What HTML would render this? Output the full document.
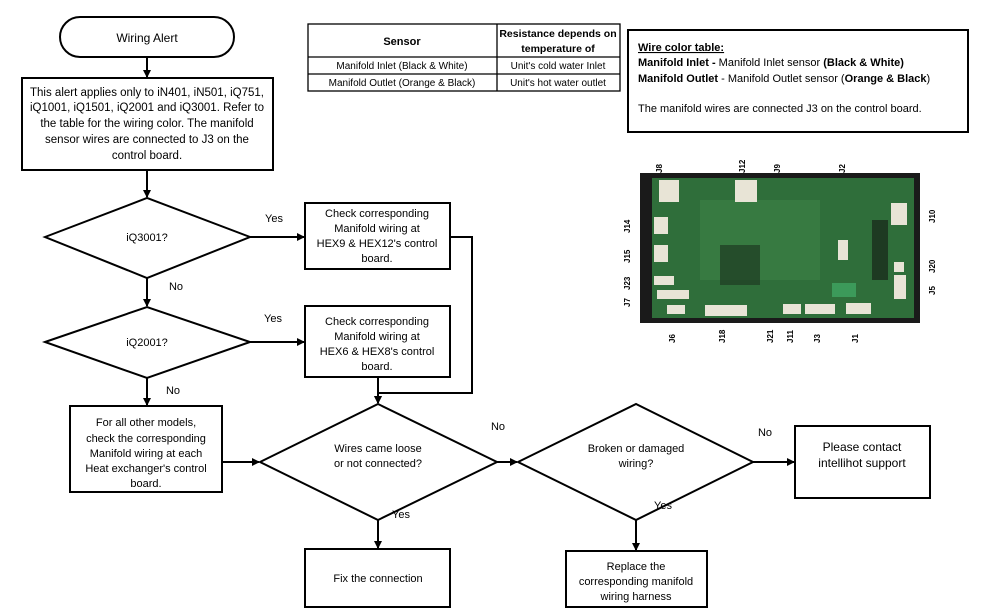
<!DOCTYPE html>
<html><head><meta charset="utf-8"><style>
html,body{margin:0;padding:0;background:#fff;}
svg{display:block;font-family:"Liberation Sans",sans-serif;}
</style></head><body>
<svg width="988" height="614" viewBox="0 0 988 614" xmlns="http://www.w3.org/2000/svg">
<defs><marker id="a" markerWidth="8" markerHeight="8" refX="7" refY="4" orient="auto" markerUnits="userSpaceOnUse"><path d="M0,0 L8,4 L0,8 z" fill="#000"/></marker></defs>
<g stroke="#000" stroke-width="2" fill="none">
<rect x="60" y="17" width="174" height="40" rx="20"/>
<rect x="22" y="78" width="251" height="92"/>
<polygon points="45,237 147,198 250,237 147,278"/>
<rect x="305" y="203" width="145" height="66"/>
<polygon points="45,342 147,307 250,342 147,378"/>
<rect x="305" y="306" width="145" height="71"/>
<rect x="70" y="406" width="152" height="86"/>
<polygon points="260,462 378,404 497,462 378,520"/>
<polygon points="518,462 636,404 753,462 636,520"/>
<rect x="795" y="426" width="135" height="72"/>
<rect x="305" y="549" width="145" height="58"/>
<rect x="566" y="551" width="141" height="56"/>
<rect x="628" y="30" width="340" height="102"/>
</g>
<g stroke="#000" stroke-width="2" fill="none" marker-end="url(#a)">
<line x1="147" y1="57" x2="147" y2="77"/>
<line x1="147" y1="170" x2="147" y2="197"/>
<line x1="250" y1="237" x2="304" y2="237"/>
<line x1="147" y1="278" x2="147" y2="306"/>
<line x1="250" y1="342" x2="304" y2="342"/>
<line x1="147" y1="378" x2="147" y2="405"/>
<polyline points="450,237 472,237 472,393 378,393 378,403"/>
<line x1="378" y1="377" x2="378" y2="403"/>
<line x1="222" y1="462" x2="259" y2="462"/>
<line x1="497" y1="462" x2="517" y2="462"/>
<line x1="753" y1="462" x2="794" y2="462"/>
<line x1="378" y1="520" x2="378" y2="548"/>
<line x1="636" y1="520" x2="636" y2="550"/>
</g>
<g stroke="#000" stroke-width="1.3" fill="none">
<rect x="308" y="24" width="312" height="67"/>
<line x1="497" y1="24" x2="497" y2="91"/>
<line x1="308" y1="57" x2="620" y2="57"/>
<line x1="308" y1="74" x2="620" y2="74"/>
</g>
<g font-size="11" text-anchor="middle" fill="#000">
<text x="402" y="45" font-weight="bold">Sensor</text>
<text x="558" y="37" font-weight="bold" font-size="10.5">Resistance depends on</text>
<text x="558" y="52" font-weight="bold" font-size="10.5">temperature of</text>
<text x="402" y="69" font-size="10">Manifold Inlet (Black &amp; White)</text>
<text x="402" y="86" font-size="10">Manifold Outlet (Orange &amp; Black)</text>
<text x="558" y="69" font-size="10">Unit's cold water Inlet</text>
<text x="558" y="86" font-size="10">Unit's hot water outlet</text>
</g>
<g font-size="11" fill="#000">
<text x="638" y="51" font-weight="bold" text-decoration="underline">Wire color table:</text>
<text x="638" y="66"><tspan font-weight="bold">Manifold Inlet -</tspan> Manifold Inlet sensor <tspan font-weight="bold">(Black &amp; White)</tspan></text>
<text x="638" y="82"><tspan font-weight="bold">Manifold Outlet</tspan> - Manifold Outlet sensor (<tspan font-weight="bold">Orange &amp; Black</tspan>)</text>
<text x="638" y="112">The manifold wires are connected J3 on the control board.</text>
</g>
<g font-size="11.5" text-anchor="middle" fill="#000">
<text x="147" y="42" font-size="12">Wiring Alert</text>
<text x="147" y="96">This alert applies only to iN401, iN501, iQ751,</text>
<text x="147" y="111">iQ1001, iQ1501, iQ2001 and iQ3001. Refer to</text>
<text x="147" y="127">the table for the wiring color. The manifold</text>
<text x="147" y="143">sensor wires are connected to J3 on the</text>
<text x="147" y="159">control board.</text>
</g>
<g font-size="11" text-anchor="middle" fill="#000">
<text x="147" y="241">iQ3001?</text>
<text x="147" y="346">iQ2001?</text>
<text x="377" y="217">Check corresponding</text>
<text x="377" y="232">Manifold wiring at</text>
<text x="377" y="247">HEX9 &amp; HEX12's control</text>
<text x="377" y="262">board.</text>
<text x="377" y="325">Check corresponding</text>
<text x="377" y="340">Manifold wiring at</text>
<text x="377" y="355">HEX6 &amp; HEX8's control</text>
<text x="377" y="370">board.</text>
<text x="146" y="426">For all other models,</text>
<text x="146" y="442">check the corresponding</text>
<text x="146" y="457">Manifold wiring at each</text>
<text x="146" y="472">Heat exchanger's control</text>
<text x="146" y="487">board.</text>
<text x="378" y="452">Wires came loose</text>
<text x="378" y="467">or not connected?</text>
<text x="636" y="452">Broken or damaged</text>
<text x="636" y="467">wiring?</text>
<text x="862" y="451" font-size="12">Please contact</text>
<text x="862" y="467" font-size="12">intellihot support</text>
<text x="378" y="582">Fix the connection</text>
<text x="636" y="570">Replace the</text>
<text x="636" y="585">corresponding manifold</text>
<text x="636" y="600">wiring harness</text>
<text x="274" y="222">Yes</text>
<text x="176" y="290">No</text>
<text x="273" y="322">Yes</text>
<text x="173" y="394">No</text>
<text x="498" y="430">No</text>
<text x="765" y="436">No</text>
<text x="401" y="518">Yes</text>
<text x="663" y="509">Yes</text>
</g>
<!-- PCB -->
<rect x="640" y="173" width="280" height="150" fill="#1a1a1a"/>
<rect x="652" y="178" width="262" height="140" fill="#2f6e3a"/>
<rect x="700" y="200" width="120" height="80" fill="#3a7d44" opacity="0.8"/>
<rect x="659" y="180" width="20" height="22" fill="#e8e4d6"/>
<rect x="735" y="180" width="22" height="22" fill="#e8e4d6"/>
<rect x="654" y="217" width="14" height="17" fill="#e8e4d6"/>
<rect x="654" y="245" width="14" height="17" fill="#e8e4d6"/>
<rect x="654" y="276" width="20" height="9" fill="#e8e4d6"/>
<rect x="657" y="290" width="32" height="9" fill="#e8e4d6"/>
<rect x="667" y="305" width="18" height="9" fill="#e8e4d6"/>
<rect x="705" y="305" width="42" height="11" fill="#e8e4d6"/>
<rect x="783" y="304" width="18" height="10" fill="#e8e4d6"/>
<rect x="805" y="304" width="30" height="10" fill="#e8e4d6"/>
<rect x="846" y="303" width="25" height="11" fill="#e8e4d6"/>
<rect x="891" y="203" width="16" height="22" fill="#e8e4d6"/>
<rect x="894" y="262" width="10" height="10" fill="#e8e4d6"/>
<rect x="894" y="275" width="12" height="24" fill="#e8e4d6"/>
<rect x="838" y="240" width="10" height="20" fill="#e8e4d6"/>
<rect x="872" y="220" width="16" height="60" fill="#1e3a22"/>
<rect x="720" y="245" width="40" height="40" fill="#1e3a22" opacity="0.7"/>
<rect x="832" y="283" width="24" height="14" fill="#3c9a5a"/>
<g font-size="8" font-weight="bold" fill="#000">
<text x="655" y="170" transform="rotate(-90 660 168)">J8</text>
<text x="738" y="170" transform="rotate(-90 743 168)">J12</text>
<text x="773" y="170" transform="rotate(-90 778 168)">J9</text>
<text x="838" y="170" transform="rotate(-90 843 168)">J2</text>
<text x="625" y="228" transform="rotate(-90 630 228)">J14</text>
<text x="625" y="258" transform="rotate(-90 630 258)">J15</text>
<text x="625" y="285" transform="rotate(-90 630 285)">J23</text>
<text x="625" y="302" transform="rotate(-90 630 302)">J7</text>
<text x="930" y="218" transform="rotate(-90 935 218)">J10</text>
<text x="930" y="268" transform="rotate(-90 935 268)">J20</text>
<text x="930" y="290" transform="rotate(-90 935 290)">J5</text>
<text x="670" y="338" transform="rotate(-90 675 338)">J6</text>
<text x="720" y="338" transform="rotate(-90 725 338)">J18</text>
<text x="768" y="338" transform="rotate(-90 773 338)">J21</text>
<text x="788" y="338" transform="rotate(-90 793 338)">J11</text>
<text x="815" y="338" transform="rotate(-90 820 338)">J3</text>
<text x="853" y="338" transform="rotate(-90 858 338)">J1</text>
</g>
</svg>
</body></html>
